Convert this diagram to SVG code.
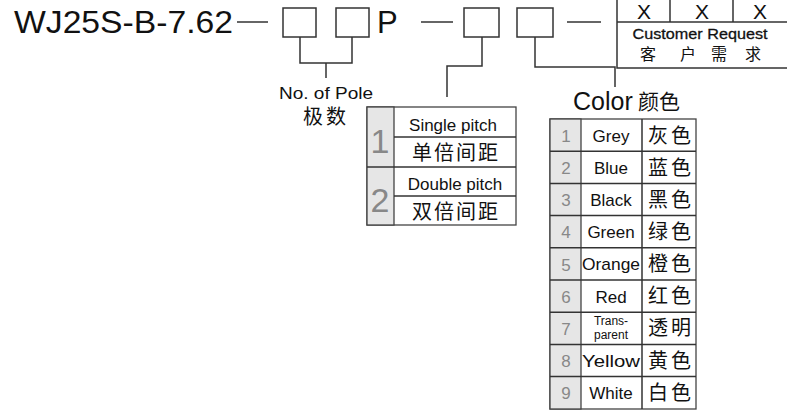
<svg xmlns="http://www.w3.org/2000/svg" width="787" height="414" viewBox="0 0 787 414">
<style>
.en{font-family:"Liberation Sans",Arial,sans-serif;fill:#111}
.cn{font-family:"Noto Sans CJK SC","Noto Sans",sans-serif;fill:#111}
.num{font-family:"Liberation Sans",Arial,sans-serif;fill:#888}
.box{fill:#fff;stroke:#333;stroke-width:1.5}
.ln{stroke:#333;stroke-width:1.5;fill:none}
.tb{fill:#fff;stroke:#444;stroke-width:1.3}
.gray{fill:#e6e6e6;stroke:#444;stroke-width:1.3}
</style>
<rect width="787" height="414" fill="#fff"/>
<g id="code">
<text class="en" x="14" y="33" font-size="31" textLength="219" lengthAdjust="spacingAndGlyphs">WJ25S-B-7.62</text>
<line class="ln" x1="237" y1="22" x2="268" y2="22"/>
<rect class="box" x="283" y="8" width="33" height="29"/>
<rect class="box" x="336" y="8" width="33" height="29"/>
<text class="en" x="377" y="33" font-size="31">P</text>
<line class="ln" x1="421" y1="22" x2="453" y2="22"/>
<rect class="box" x="464" y="8" width="35" height="29"/>
<rect class="box" x="517" y="8" width="36" height="29"/>
<line class="ln" x1="567" y1="22" x2="601" y2="22"/>
</g>
<g id="customer">
<rect class="box" x="617" y="-2" width="180" height="70"/>
<line class="ln" x1="617" y1="22" x2="787" y2="22"/>
<line class="ln" x1="670" y1="-2" x2="670" y2="22"/>
<line class="ln" x1="733" y1="-2" x2="733" y2="22"/>
<text class="en" x="644" y="19" font-size="21" text-anchor="middle">X</text>
<text class="en" x="702" y="19" font-size="21" text-anchor="middle">X</text>
<text class="en" x="760" y="19" font-size="21" text-anchor="middle">X</text>
<text class="en" x="700" y="39" font-size="15" text-anchor="middle" stroke="#111" stroke-width="0.3" textLength="135" lengthAdjust="spacingAndGlyphs">Customer Request</text>
<text class="cn" x="640" y="60" font-size="16">客</text>
<text class="cn" x="680" y="60" font-size="16">户</text>
<text class="cn" x="711" y="60" font-size="16">需</text>
<text class="cn" x="745" y="60" font-size="16">求</text>
</g>
<g id="connectors">
<polyline class="ln" points="300,37 300,63 352,63 352,37"/>
<line class="ln" x1="326" y1="63" x2="326" y2="78"/>
<polyline class="ln" points="482,37 482,66 447,66 447,97"/>
<polyline class="ln" points="535,37 535,67 615,67 615,87"/>
</g>
<g id="pole">
<text class="en" x="279" y="99" font-size="16" textLength="94" lengthAdjust="spacingAndGlyphs">No. of  Pole</text>
<text class="cn" x="303" y="124" font-size="20" letter-spacing="3">极数</text>
</g>
<g id="pitch">
<rect class="tb" x="367" y="107" width="149" height="118"/>
<rect class="gray" x="367" y="107" width="27" height="118"/>
<line class="ln" x1="394" y1="137" x2="516" y2="137"/>
<line class="ln" x1="367" y1="167" x2="516" y2="167"/>
<line class="ln" x1="394" y1="196" x2="516" y2="196"/>
<text class="num" x="380" y="153" font-size="34" text-anchor="middle">1</text>
<text class="num" x="380" y="212" font-size="34" text-anchor="middle">2</text>
<text class="en" x="453" y="131" font-size="17" text-anchor="middle">Single pitch</text>
<text class="cn" x="456" y="160" font-size="20" text-anchor="middle" letter-spacing="2">单倍间距</text>
<text class="en" x="455" y="190" font-size="17" text-anchor="middle">Double pitch</text>
<text class="cn" x="456" y="219" font-size="20" text-anchor="middle" letter-spacing="2">双倍间距</text>
</g>
<g id="color">
<text class="en" x="573" y="110" font-size="25">Color</text>
<text class="cn" x="638" y="109" font-size="21">颜色</text>
<rect class="tb" x="550" y="119" width="146" height="290"/>
<rect class="gray" x="550" y="119" width="31" height="290"/>
<line class="ln" x1="642" y1="119" x2="642" y2="409"/>
<g class="ln">
<line x1="550" y1="151.2" x2="696" y2="151.2"/>
<line x1="550" y1="183.4" x2="696" y2="183.4"/>
<line x1="550" y1="215.6" x2="696" y2="215.6"/>
<line x1="550" y1="247.8" x2="696" y2="247.8"/>
<line x1="550" y1="280" x2="696" y2="280"/>
<line x1="550" y1="312.2" x2="696" y2="312.2"/>
<line x1="550" y1="344.4" x2="696" y2="344.4"/>
<line x1="550" y1="376.6" x2="696" y2="376.6"/>
</g>
<g class="num" font-size="17" text-anchor="middle">
<text x="566" y="142">1</text>
<text x="566" y="174">2</text>
<text x="566" y="206">3</text>
<text x="566" y="238">4</text>
<text x="566" y="271">5</text>
<text x="566" y="303">6</text>
<text x="566" y="335">7</text>
<text x="566" y="367">8</text>
<text x="566" y="399">9</text>
</g>
<g class="en" font-size="17" text-anchor="middle">
<text x="611" y="142">Grey</text>
<text x="611" y="174">Blue</text>
<text x="611" y="206">Black</text>
<text x="611" y="238">Green</text>
<text x="611" y="270" textLength="58" lengthAdjust="spacingAndGlyphs">Orange</text>
<text x="611" y="303">Red</text>
<text x="611" y="325" font-size="12">Trans-</text>
<text x="611" y="339" font-size="12">parent</text>
<text x="611" y="367" textLength="58" lengthAdjust="spacingAndGlyphs">Yellow</text>
<text x="611" y="399">White</text>
</g>
<g class="cn" font-size="20" text-anchor="middle" letter-spacing="3">
<text x="671" y="143">灰色</text>
<text x="671" y="175">蓝色</text>
<text x="671" y="207">黑色</text>
<text x="671" y="239">绿色</text>
<text x="671" y="271">橙色</text>
<text x="671" y="303">红色</text>
<text x="671" y="335">透明</text>
<text x="671" y="368">黄色</text>
<text x="671" y="400">白色</text>
</g>
</g>
</svg>
